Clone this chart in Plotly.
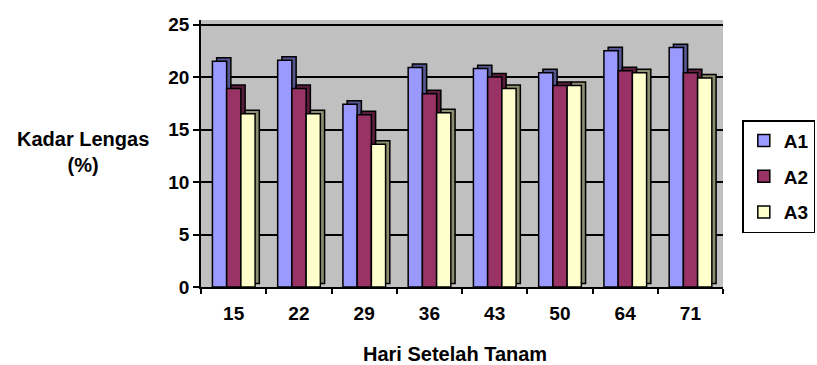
import plotly.graph_objects as go

# Soil moisture content per observation day for three treatments
days = ["15", "22", "29", "36", "43", "50", "64", "71"]
series_names = ["A1", "A2", "A3"]
a1 = [21.5, 21.6, 17.4, 20.9, 20.8, 20.4, 22.5, 22.8]
a2 = [18.9, 18.9, 16.4, 18.4, 20.0, 19.2, 20.6, 20.4]
a3 = [16.5, 16.5, 13.6, 16.6, 18.9, 19.2, 20.4, 19.9]
values = [a1, a2, a3]

face_colors = ["#9999FF", "#993366", "#FFFFCC"]
shade_colors = ["#55558F", "#5A1E3C", "#8C8C6E"]

bar_w = 0.218
first_off = -0.325
depth_dx = 0.065
depth_dy = 0.33

fig = go.Figure()

# depth faces (side + top) drawn first, behind the front faces
for i, (name, vals) in enumerate(zip(series_names, values)):
    fig.add_trace(go.Bar(
        x=days, y=vals, base=depth_dy,
        offset=first_off + i * bar_w + depth_dx, width=bar_w,
        marker=dict(color=shade_colors[i], line=dict(color="black", width=1.5)),
        showlegend=False, hoverinfo="skip",
    ))

# front faces
for i, (name, vals) in enumerate(zip(series_names, values)):
    fig.add_trace(go.Bar(
        x=days, y=vals, name=name, legendgroup=name,
        offset=first_off + i * bar_w, width=bar_w,
        marker=dict(color=face_colors[i], line=dict(color="black", width=1.5)),
    ))

font_family = "Liberation Sans, Arial, sans-serif"
tick_font = dict(size=19, family=font_family, weight="bold")
title_font = dict(size=20, family=font_family, weight="bold")

fig.update_layout(
    width=817, height=365,
    margin=dict(l=201, r=94, t=20, b=78, autoexpand=False),
    paper_bgcolor="white",
    plot_bgcolor="#C0C0C0",
    barmode="overlay",
    font=dict(family=font_family, color="black"),
    xaxis=dict(
        type="category",
        tickson="boundaries",
        ticks="outside", ticklen=5, tickwidth=1.5, tickcolor="black",
        showline=True, linecolor="black", linewidth=1.5,
        showgrid=False,
        tickfont=tick_font,
        ticklabelstandoff=8,
    ),
    yaxis=dict(
        range=[0, 25.43],
        tickvals=[0, 5, 10, 15, 20, 25],
        ticks="outside", ticklen=6, tickwidth=1.5, tickcolor="black",
        showline=True, linecolor="black", linewidth=1.5,
        showgrid=True, gridcolor="black", gridwidth=1.5,
        zeroline=False,
        tickfont=tick_font,
    ),
    legend=dict(
        x=1.037, y=0.625, xanchor="left", yanchor="top",
        bordercolor="black", borderwidth=1.5,
        font=dict(size=19, family=font_family, weight="bold"),
        tracegroupgap=8,
        bgcolor="white",
    ),
    annotations=[
        dict(text="Kadar Lengas<br>(%)", xref="paper", yref="paper",
             x=-0.226, y=0.506, xanchor="center", yanchor="middle",
             showarrow=False, font=title_font),
        dict(text="Hari Setelah Tanam", xref="paper", yref="paper",
             x=0.487, y=-0.251, xanchor="center", yanchor="middle",
             showarrow=False, font=title_font),
    ],
)

fig.write_html("out.html")
